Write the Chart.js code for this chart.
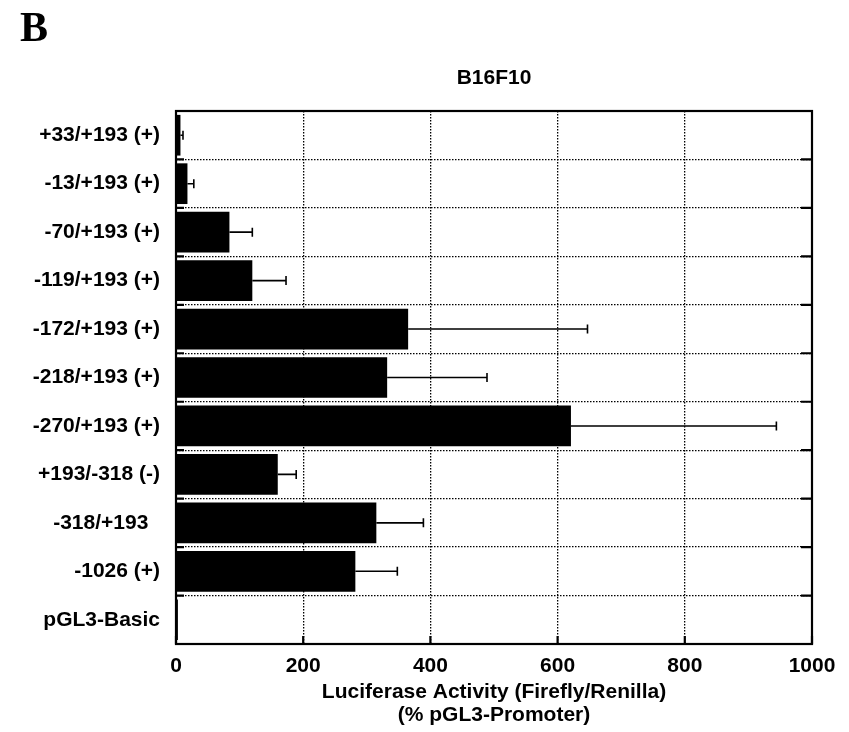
<!DOCTYPE html>
<html>
<head>
<meta charset="utf-8">
<script src="https://cdn.jsdelivr.net/npm/chart.js@4.4.0/dist/chart.umd.min.js"></script>
<style>
  html, body { margin: 0; padding: 0; background: #fff; }
  .wrap { position: relative; width: 849px; height: 732px; }
  .panel { position: absolute; left: 20px; top: 3px; font: bold 42px 'Liberation Serif', 'Times New Roman', serif; color: #000; }
</style>
</head>
<body>
<div class="wrap">
  <div class="panel">B</div>
  <canvas id="lucChart" width="849" height="732"></canvas>
</div>
<script>
// promoter constructs, top to bottom
const constructs = [
    '+33/+193 (+)', '-13/+193 (+)', '-70/+193 (+)', '-119/+193 (+)',
    '-172/+193 (+)', '-218/+193 (+)', '-270/+193 (+)', '+193/-318 (-)',
    '-318/+193  ', '-1026 (+)', 'pGL3-Basic'
];
// luciferase activity, % of pGL3-Promoter
const activity = [7, 18, 84, 120, 365, 332, 621, 160, 315, 282, 3];
// standard deviation (drawn one-sided)
const activitySd = [4, 10, 36, 53, 282, 157, 323, 29, 74, 66, 0];
const xTicks = [0, 200, 400, 600, 800, 1000];

const FONT = "'Liberation Sans', Arial, Helvetica, sans-serif";
const labelFont = { family: FONT, size: 21, weight: 'bold' };

// frame, inward ticks and SD whiskers
const framePlugin = {
    id: 'frame',
    afterDatasetsDraw(chart) {
        const { ctx, chartArea: a, scales: { x, y } } = chart;
        const meta = chart.getDatasetMeta(0);
        ctx.save();
        ctx.strokeStyle = '#000';
        ctx.lineWidth = 1.6;
        meta.data.forEach((bar, i) => {
            const sd = activitySd[i];
            if (!sd) return;
            const x0 = x.getPixelForValue(activity[i]);
            const x1 = x.getPixelForValue(activity[i] + sd);
            ctx.beginPath();
            ctx.moveTo(x0, bar.y);
            ctx.lineTo(x1, bar.y);
            ctx.moveTo(x1, bar.y - 4.5);
            ctx.lineTo(x1, bar.y + 4.5);
            ctx.stroke();
        });

        ctx.lineWidth = 2.2;
        ctx.strokeRect(a.left, a.top, a.right - a.left, a.bottom - a.top);
        ctx.beginPath();
        for (let i = 1; i < constructs.length; i++) {
            const yb = (y.getPixelForTick(i - 1) + y.getPixelForTick(i)) / 2;
            ctx.moveTo(a.left, yb);
            ctx.lineTo(a.left + 8, yb);
            ctx.moveTo(a.right, yb);
            ctx.lineTo(a.right - 11, yb);
        }
        xTicks.forEach(v => {
            const px = x.getPixelForValue(v);
            ctx.moveTo(px, a.bottom);
            ctx.lineTo(px, a.bottom - 8);
        });
        ctx.stroke();
        ctx.restore();
    }
};

new Chart(document.getElementById('lucChart').getContext('2d'), {
    type: 'bar',
    data: {
        labels: constructs,
        datasets: [{
            data: activity,
            backgroundColor: '#000',
            borderWidth: 0,
            categoryPercentage: 1,
            barPercentage: 0.84
        }]
    },
    options: {
        indexAxis: 'y',
        responsive: false,
        animation: false,
        layout: { padding: { left: 0, right: 37, top: 0, bottom: 0 } },
        plugins: {
            legend: { display: false },
            tooltip: { enabled: false }
        },
        scales: {
            x: {
                type: 'linear',
                position: 'bottom',
                min: 0,
                max: 1000,
                afterBuildTicks: s => { s.ticks = xTicks.map(v => ({ value: v })); },
                afterFit: s => { s.height = 88; },
                grid: { color: '#000', lineWidth: 1.3, drawTicks: false },
                border: { display: false, dash: [1.5, 1.5] },
                ticks: { color: '#000', font: labelFont, padding: 10, maxRotation: 0, callback: v => String(v) },
                title: {
                    display: true,
                    text: ['Luciferase Activity (Firefly/Renilla)', '(% pGL3-Promoter)'],
                    color: '#000',
                    font: { family: FONT, size: 21, weight: 'bold', lineHeight: 1.1 },
                    padding: { top: 0, bottom: 5 }
                }
            },
            top: {
                type: 'linear',
                position: 'top',
                min: 0,
                max: 1000,
                afterFit: s => { s.height = 111; },
                grid: { display: false, drawTicks: false },
                border: { display: false },
                ticks: { display: false },
                title: {
                    display: true,
                    text: 'B16F10',
                    color: '#000',
                    font: labelFont,
                    padding: { top: 66, bottom: 0 }
                }
            },
            y: {
                type: 'category',
                afterFit: s => { s.width = 176; },
                grid: { color: '#000', lineWidth: 1.3, drawTicks: false, offset: true },
                border: { display: false, dash: [1.5, 1.5] },
                ticks: { color: '#000', font: labelFont, padding: 16 }
            }
        }
    },
    plugins: [framePlugin]
});
</script>
</body>
</html>
